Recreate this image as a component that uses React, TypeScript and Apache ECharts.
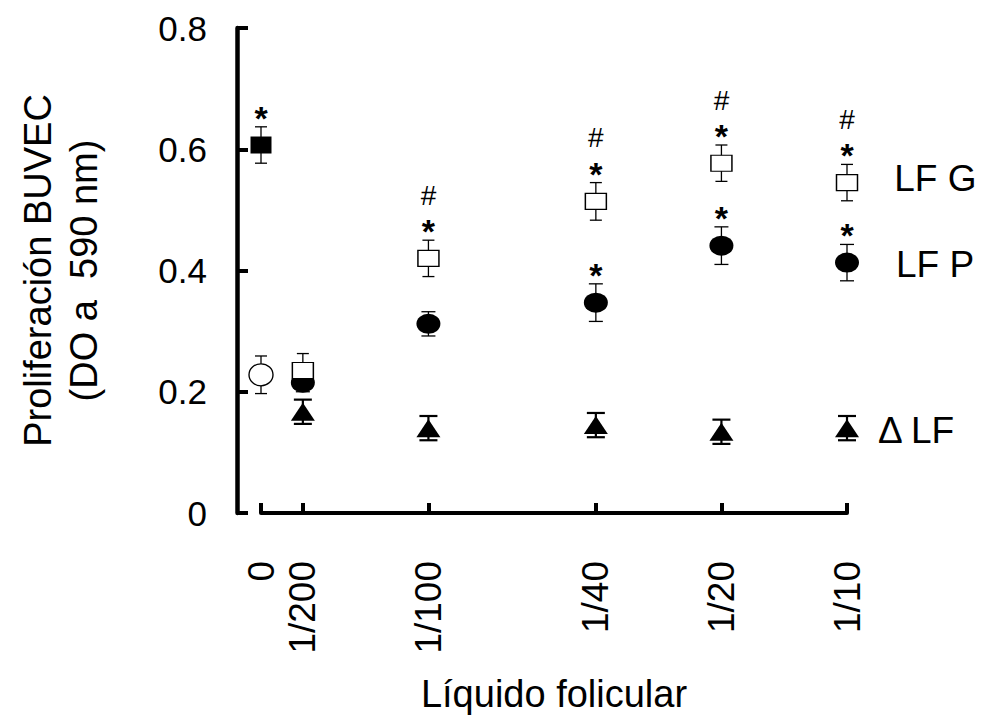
import React, { useEffect, useRef } from "react";
import * as echarts from "echarts";

// ---- data ----
const categories = ["0", "1/200", "1/100", "1/40", "1/20", "1/10"];
// position of each dilution along the (non-uniform) x axis
const axisPositions = [0, 1, 4, 8, 11, 14];
const yTicks = [0, 0.2, 0.4, 0.6, 0.8];

const lfG = [null, 0.235, 0.42, 0.514, 0.577, 0.545];
const lfGErr = [null, 0.028, 0.03, 0.031, 0.03, 0.03];
const lfP = [null, 0.215, 0.312, 0.347, 0.441, 0.413];
const lfPErr = [null, 0.015, 0.02, 0.031, 0.031, 0.03];
const deltaLF = [null, 0.167, 0.14, 0.145, 0.134, 0.14];
const deltaErr = [null, 0.02, 0.02, 0.02, 0.02, 0.02];
const control = [0.228, null, null, null, null, null];
const controlErr = [0.031, null, null, null, null, null];
const positive = [0.607, null, null, null, null, null];
const positiveErr = [0.03, null, null, null, null, null];

const lfGMarks = ["", "", "*#", "*#", "*#", "*#"];
const lfPMarks = ["", "", "", "*", "*", "*"];
const positiveMarks = ["*", "", "", "", "", ""];

const FONT = 'Arial, "Liberation Sans", sans-serif';

function points(vals: (number | null)[], errs: (number | null)[]) {
  const out: number[][] = [];
  vals.forEach((v, i) => {
    if (v != null) out.push([axisPositions[i], v, errs[i] as number]);
  });
  return out;
}

function errSeries(data: number[][], capW: number, lw: number) {
  return {
    type: "custom",
    z: 2,
    clip: false,
    encode: { x: 0, y: 1 },
    data,
    renderItem: (params: any, api: any) => {
      const x = api.value(0);
      const y = api.value(1);
      const e = api.value(2);
      const top = api.coord([x, y + e]);
      const bot = api.coord([x, y - e]);
      const style = { stroke: "#000", lineWidth: lw };
      return {
        type: "group",
        children: [
          { type: "line", shape: { x1: top[0], y1: top[1], x2: bot[0], y2: bot[1] }, style },
          { type: "line", shape: { x1: top[0] - capW / 2, y1: top[1], x2: top[0] + capW / 2, y2: top[1] }, style },
          { type: "line", shape: { x1: bot[0] - capW / 2, y1: bot[1], x2: bot[0] + capW / 2, y2: bot[1] }, style },
        ],
      };
    },
  };
}

// annotation anchors: top of error bar + marks
const annotations: { x: number; y: number; marks: string }[] = [];
function addMarks(vals: (number | null)[], errs: (number | null)[], marks: string[]) {
  marks.forEach((m, i) => {
    if (m && vals[i] != null) {
      annotations.push({ x: axisPositions[i], y: (vals[i] as number) + (errs[i] as number), marks: m });
    }
  });
}
addMarks(lfG, lfGErr, lfGMarks);
addMarks(lfP, lfPErr, lfPMarks);
addMarks(positive, positiveErr, positiveMarks);

const ellipsePath = "path://M0,10 A12,10 0 1,0 24,10 A12,10 0 1,0 0,10 Z";

function withEndLabel(data: number[][], text: string, offset: number[]) {
  return data.map((d, i) =>
    i === data.length - 1
      ? {
          value: d,
          label: {
            show: true,
            formatter: text,
            position: "right",
            offset,
            color: "#000",
            fontSize: 37,
            fontFamily: FONT,
          },
        }
      : { value: d }
  );
}

export default function App() {
  const ref = useRef<HTMLDivElement>(null);
  useEffect(() => {
    const chart = echarts.init(ref.current!, null, { renderer: "svg" });
    const gData = points(lfG, lfGErr);
    const pData = points(lfP, lfPErr);
    const dData = points(deltaLF, deltaErr);
    const cData = points(control, controlErr);
    const posData = points(positive, positiveErr);

    const option: any = {
      animation: false,
      backgroundColor: "#fff",
      grid: { left: 261, right: 134, top: 28, bottom: 207, containLabel: false },
      xAxis: {
        type: "value",
        min: 0,
        max: 14,
        splitLine: { show: false },
        axisLine: { show: true, onZero: false, lineStyle: { color: "#000", width: 4 } },
        axisTick: {
          show: true,
          inside: true,
          length: 10,
          lineStyle: { color: "#000", width: 4 },
          customValues: axisPositions,
        },
        axisLabel: {
          show: true,
          rotate: 90,
          margin: 48,
          color: "#000",
          fontSize: 37,
          fontFamily: FONT,
          customValues: axisPositions,
          formatter: (v: number) => {
            const i = axisPositions.indexOf(v);
            return i >= 0 ? categories[i] : "";
          },
        },
        name: "Líquido folicular",
        nameLocation: "middle",
        nameGap: 162,
        nameTextStyle: { color: "#000", fontSize: 38, fontFamily: FONT },
      },
      yAxis: {
        type: "value",
        min: 0,
        max: 0.8,
        interval: 0.2,
        offset: 24,
        splitLine: { show: false },
        axisLine: { show: true, onZero: false, lineStyle: { color: "#000", width: 4.5 } },
        axisTick: {
          show: true,
          inside: true,
          length: 11,
          lineStyle: { color: "#000", width: 4 },
          customValues: yTicks,
        },
        axisLabel: {
          color: "#000",
          fontSize: 35,
          fontFamily: FONT,
          margin: 30,
          customValues: yTicks,
          formatter: (v: number) => (v === 0 ? "0" : v.toFixed(1)),
        },
        name: "Proliferación BUVEC\n(DO a  590 nm)",
        nameLocation: "middle",
        nameGap: 130,
        nameTextStyle: { color: "#000", fontSize: 38, fontFamily: FONT, lineHeight: 46 },
      },
      series: [
        errSeries(gData, 12, 1.3),
        errSeries(pData, 14, 1.3),
        errSeries(dData, 18, 2.2),
        errSeries(cData, 12, 1.3),
        errSeries(posData, 12, 1.3),
        {
          name: "Δ LF",
          type: "scatter",
          z: 3,
          symbol: "triangle",
          symbolSize: [24, 18],
          itemStyle: { color: "#000", opacity: 1 },
          data: withEndLabel(dData, "Δ LF", [14, 2]),
        },
        {
          name: "LF P",
          type: "scatter",
          z: 4,
          symbol: ellipsePath,
          symbolSize: [24, 20],
          itemStyle: { color: "#000", opacity: 1 },
          data: withEndLabel(pData, "LF P", [32, 2]),
        },
        {
          name: "Control",
          type: "scatter",
          z: 4,
          symbol: ellipsePath,
          symbolSize: [24, 22],
          itemStyle: { color: "#fff", borderColor: "#000", borderWidth: 1.3, opacity: 1 },
          data: cData,
        },
        {
          name: "Positivo",
          type: "scatter",
          z: 4,
          symbol: "rect",
          symbolSize: [21, 17],
          itemStyle: { color: "#000", opacity: 1 },
          data: posData,
        },
        {
          name: "LF G",
          type: "scatter",
          z: 5,
          symbol: "rect",
          symbolSize: [21, 16],
          itemStyle: { color: "#fff", borderColor: "#000", borderWidth: 1.3, opacity: 1 },
          data: withEndLabel(gData, "LF G", [31, -4]),
        },
        {
          type: "custom",
          z: 6,
          clip: false,
          encode: { x: 0, y: 1 },
          data: annotations.map((a) => [a.x, a.y]),
          renderItem: (params: any, api: any) => {
            const a = annotations[params.dataIndex];
            const p = api.coord([a.x, a.y]);
            const children: any[] = [];
            if (a.marks.includes("*")) {
              children.push({
                type: "text",
                x: p[0],
                y: p[1] - 9,
                style: {
                  text: "*",
                  fontSize: 34,
                  fontWeight: "bold",
                  fontFamily: FONT,
                  fill: "#000",
                  align: "center",
                  verticalAlign: "middle",
                },
              });
            }
            if (a.marks.includes("#")) {
              children.push({
                type: "text",
                x: p[0],
                y: p[1] - 45,
                style: {
                  text: "#",
                  fontSize: 28,
                  fontFamily: FONT,
                  fill: "#000",
                  align: "center",
                  verticalAlign: "middle",
                },
              });
            }
            return { type: "group", children };
          },
        },
      ],
    };
    chart.setOption(option);
    return () => chart.dispose();
  }, []);
  return (
    <div
      ref={ref}
      style={{ position: "absolute", left: 0, top: 0, width: 981, height: 720, background: "#fff" }}
    />
  );
}
